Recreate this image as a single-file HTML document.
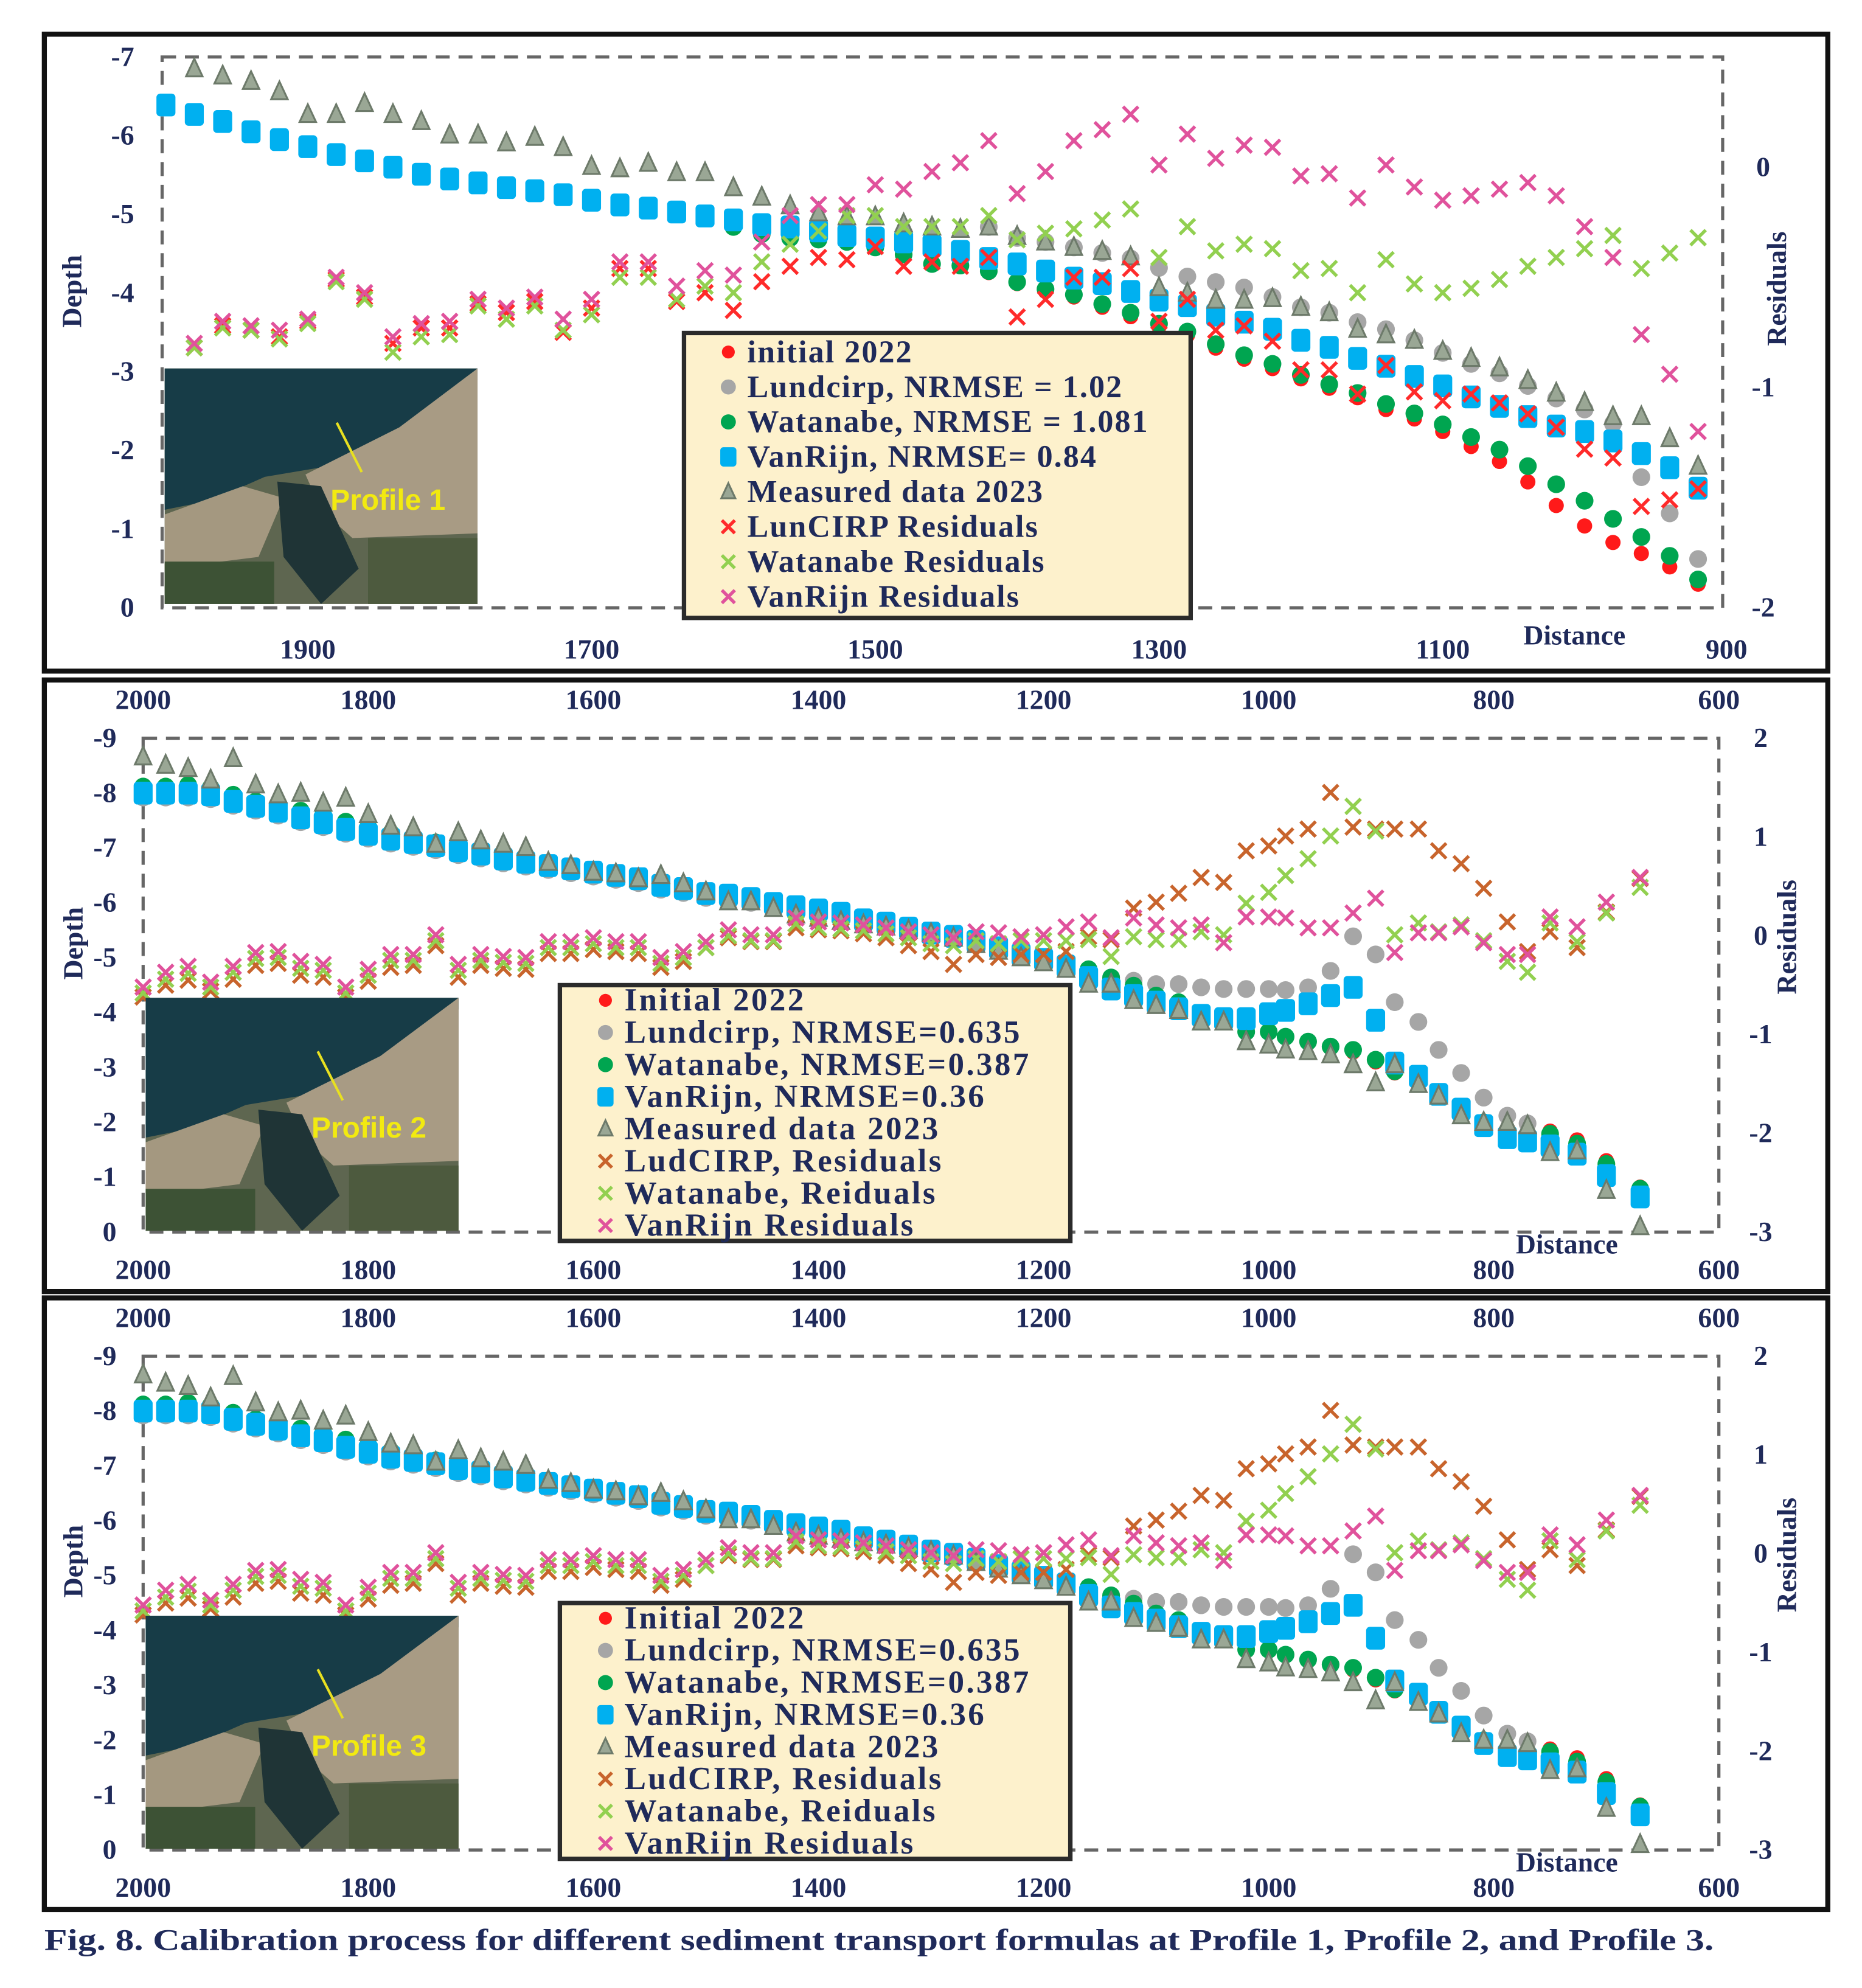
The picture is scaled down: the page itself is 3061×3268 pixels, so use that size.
<!DOCTYPE html>
<html><head><meta charset="utf-8"><title>Calibration process</title>
<style>
html,body{margin:0;padding:0;background:#fff;}
svg{display:block;}
text{font-family:"Liberation Serif",serif;font-weight:bold;fill:#1f2a5a;}
</style></head>
<body>
<svg id="fig" xmlns="http://www.w3.org/2000/svg" width="3061" height="3268" viewBox="0 0 1470 1570" preserveAspectRatio="none">
<rect x="0" y="0" width="1470" height="1570" fill="#fff"/>
<g id="layer-frames"></g>
<g id="layer-marks"></g>
<g id="layer-over"></g>
<text x="35" y="1540" font-size="24" textLength="1318" lengthAdjust="spacingAndGlyphs">Fig. 8. Calibration process for different sediment transport formulas at Profile 1, Profile 2, and Profile 3.</text>
</svg>
<script>
// ===== Panel 1 data =====
const p1Dist = [2000,1980,1960,1940,1920,1900,1880,1860,1840,1820,1800,1780,1760,1740,1720,1700,1680,1660,1640,1620,1600,1580,1560,1540,1520,1500,1480,1460,1440,1420,1400,1380,1360,1340,1320,1300,1280,1260,1240,1220,1200,1180,1160,1140,1120,1100,1080,1060,1040,1020,1000,980,960,940,920];
const p1Van = [-6.39,-6.27,-6.18,-6.05,-5.95,-5.86,-5.76,-5.68,-5.60,-5.51,-5.45,-5.40,-5.34,-5.30,-5.25,-5.18,-5.12,-5.08,-5.03,-4.98,-4.93,-4.87,-4.84,-4.79,-4.73,-4.70,-4.65,-4.60,-4.53,-4.44,-4.37,-4.28,-4.19,-4.12,-4.02,-3.91,-3.84,-3.72,-3.63,-3.54,-3.40,-3.31,-3.17,-3.07,-2.94,-2.82,-2.68,-2.56,-2.43,-2.31,-2.24,-2.12,-1.96,-1.78,-1.52];
const p1Lund = [-6.39,-6.27,-6.18,-6.05,-5.95,-5.86,-5.76,-5.68,-5.60,-5.51,-5.45,-5.40,-5.34,-5.30,-5.25,-5.18,-5.12,-5.08,-5.03,-4.98,-4.93,-4.87,-4.84,-4.79,-4.73,-4.70,-4.65,-4.60,-4.53,-4.84,-4.70,-4.65,-4.58,-4.51,-4.44,-4.32,-4.21,-4.14,-4.07,-3.95,-3.82,-3.75,-3.63,-3.54,-3.40,-3.24,-3.10,-2.98,-2.82,-2.66,-2.52,-2.34,-1.66,-1.20,-0.62];
const p1Wat = [-6.39,-6.27,-6.18,-6.05,-5.95,-5.86,-5.76,-5.68,-5.60,-5.51,-5.45,-5.40,-5.34,-5.30,-5.25,-5.18,-5.12,-5.08,-5.03,-4.98,-4.84,-4.75,-4.70,-4.68,-4.65,-4.58,-4.49,-4.37,-4.35,-4.28,-4.14,-4.05,-3.98,-3.86,-3.75,-3.61,-3.51,-3.35,-3.21,-3.10,-2.96,-2.84,-2.73,-2.59,-2.47,-2.33,-2.17,-2.01,-1.80,-1.57,-1.36,-1.13,-0.90,-0.66,-0.36];
const p1Init = [null,null,null,null,null,null,null,null,null,null,null,null,null,null,null,null,null,null,null,null,null,null,null,null,null,null,null,null,null,-4.26,-4.12,-4.02,-3.95,-3.82,-3.70,-3.57,-3.46,-3.30,-3.16,-3.04,-2.91,-2.79,-2.67,-2.52,-2.40,-2.24,-2.05,-1.86,-1.60,-1.30,-1.04,-0.83,-0.69,-0.52,-0.30];
const p1Meas = [null,-6.85,-6.76,-6.69,-6.56,-6.27,-6.27,-6.41,-6.27,-6.18,-6.01,-6.01,-5.91,-5.98,-5.85,-5.61,-5.58,-5.65,-5.53,-5.53,-5.34,-5.22,-5.11,-5.02,-4.97,-4.97,-4.88,-4.84,-4.81,-4.84,-4.72,-4.65,-4.58,-4.53,-4.46,-4.07,-4.00,-3.91,-3.91,-3.93,-3.82,-3.75,-3.54,-3.47,-3.40,-3.26,-3.17,-3.05,-2.89,-2.73,-2.61,-2.43,-2.43,-2.15,-1.80];
const p1ResLun = [null,-0.82,-0.72,-0.74,-0.77,-0.70,-0.51,-0.59,-0.80,-0.73,-0.73,-0.62,-0.66,-0.61,-0.75,-0.64,-0.46,-0.46,-0.61,-0.57,-0.65,-0.52,-0.45,-0.41,-0.42,-0.36,-0.45,-0.43,-0.45,-0.41,-0.68,-0.60,-0.50,-0.50,-0.46,-0.70,-0.60,-0.74,-0.72,-0.79,-0.92,-0.92,-1.03,-0.90,-1.02,-1.06,-1.03,-1.07,-1.12,-1.18,-1.28,-1.32,-1.54,-1.51,-1.46];
const p1ResWat = [null,-0.82,-0.73,-0.74,-0.78,-0.71,-0.52,-0.60,-0.84,-0.77,-0.76,-0.63,-0.69,-0.63,-0.74,-0.67,-0.50,-0.50,-0.60,-0.54,-0.57,-0.43,-0.35,-0.29,-0.22,-0.22,-0.27,-0.27,-0.27,-0.22,-0.33,-0.30,-0.28,-0.24,-0.19,-0.41,-0.27,-0.38,-0.35,-0.37,-0.47,-0.46,-0.57,-0.42,-0.53,-0.57,-0.55,-0.51,-0.45,-0.41,-0.37,-0.31,-0.46,-0.39,-0.32];
const p1ResVan = [null,-0.80,-0.70,-0.72,-0.74,-0.69,-0.50,-0.57,-0.77,-0.71,-0.70,-0.60,-0.64,-0.59,-0.69,-0.60,-0.43,-0.43,-0.54,-0.47,-0.49,-0.34,-0.22,-0.17,-0.17,-0.08,-0.10,-0.02,0.02,0.12,-0.12,-0.02,0.12,0.17,0.24,0.01,0.15,0.04,0.10,0.09,-0.04,-0.03,-0.14,0.01,-0.09,-0.15,-0.13,-0.10,-0.07,-0.13,-0.27,-0.41,-0.76,-0.94,-1.20];
const p1XTicks = [1900,1700,1500,1300,1100,900];
const p1DepthTicks = [-7,-6,-5,-4,-3,-2,-1,0];
const p1ResTicks = [0,-1,-2];
const p1Legend = ["initial 2022","Lundcirp, NRMSE = 1.02","Watanabe, NRMSE = 1.081","VanRijn, NRMSE= 0.84","Measured data 2023","LunCIRP Residuals","Watanabe Residuals","VanRijn Residuals"];

// ===== Panel 2 / 3 data =====
const p2Dist = [2000,1980,1960,1940,1920,1900,1880,1860,1840,1820,1800,1780,1760,1740,1720,1700,1680,1660,1640,1620,1600,1580,1560,1540,1520,1500,1480,1460,1440,1420,1400,1380,1360,1340,1320,1300,1280,1260,1240,1220,1200,1180,1160,1140,1120,1100,1080,1060,1040,1020,1000,985,965,945,925,905,888,867,849,829,809,788,770,750,726,700,670];
const p2Van = [-8.00,-8.00,-8.00,-7.97,-7.85,-7.76,-7.67,-7.55,-7.46,-7.34,-7.25,-7.16,-7.10,-7.04,-6.95,-6.89,-6.80,-6.74,-6.68,-6.62,-6.56,-6.50,-6.44,-6.32,-6.26,-6.17,-6.14,-6.08,-5.99,-5.93,-5.87,-5.81,-5.69,-5.63,-5.54,-5.45,-5.39,-5.30,-5.18,-5.06,-4.97,-4.85,-4.64,-4.43,-4.31,-4.19,-4.07,-3.95,-3.89,-3.89,-3.98,-4.04,-4.16,-4.31,-4.46,-3.86,-3.08,-2.84,-2.51,-2.24,-1.94,-1.72,-1.66,-1.57,-1.42,-1.03,-0.64];
const p2Lund = [-7.92,-7.92,-7.92,-7.89,-7.77,-7.68,-7.59,-7.47,-7.38,-7.26,-7.17,-7.08,-7.02,-6.96,-6.87,-6.81,-6.72,-6.66,-6.60,-6.54,-6.48,-6.42,-6.36,-6.24,-6.18,-6.09,-6.06,-6.00,-5.91,-5.85,-5.79,-5.73,-5.61,-5.55,-5.46,-5.40,-5.34,-5.25,-5.13,-5.01,-4.92,-4.80,-4.70,-4.62,-4.58,-4.52,-4.52,-4.46,-4.43,-4.43,-4.43,-4.41,-4.46,-4.76,-5.39,-5.06,-4.19,-3.83,-3.32,-2.90,-2.45,-2.12,-1.98,-1.70,-1.50,-1.08,-0.68];
const p2Wat = [-8.12,-8.12,-8.15,-8.10,-7.97,-7.85,-7.80,-7.68,-7.60,-7.48,-7.38,-7.27,-7.20,-7.10,-7.00,-6.92,-6.83,-6.76,-6.70,-6.64,-6.58,-6.52,-6.46,-6.35,-6.28,-6.19,-6.15,-6.09,-6.00,-5.94,-5.88,-5.82,-5.70,-5.64,-5.55,-5.45,-5.39,-5.30,-5.18,-5.06,-4.97,-4.88,-4.79,-4.64,-4.49,-4.31,-4.19,-3.98,-3.86,-3.65,-3.65,-3.56,-3.47,-3.38,-3.32,-3.14,-2.93,-2.78,-2.48,-2.21,-2.00,-1.81,-1.69,-1.79,-1.61,-1.24,-0.79];
const p2Init = [-8.10,-8.10,-8.13,-8.08,-7.95,-7.84,-7.78,-7.66,-7.58,-7.46,-7.36,-7.25,-7.18,-7.08,-6.98,-6.90,-6.81,-6.74,-6.68,-6.62,-6.56,-6.50,-6.44,-6.33,-6.26,-6.17,-6.13,-6.07,-5.98,-5.92,-5.86,-5.80,-5.68,-5.62,-5.53,-5.43,-5.37,-5.28,-5.16,-5.04,-4.95,-4.86,-4.77,-4.62,-4.47,-4.29,-4.17,-3.96,-3.84,-3.63,-3.63,-3.54,-3.45,-3.36,-3.28,-3.10,-2.90,-2.76,-2.46,-2.19,-1.98,-1.80,-1.74,-1.84,-1.68,-1.30,-0.82];
const p2Meas = [-8.66,-8.51,-8.45,-8.24,-8.63,-8.15,-7.97,-8.00,-7.82,-7.91,-7.61,-7.40,-7.37,-7.07,-7.28,-7.13,-7.07,-7.01,-6.74,-6.68,-6.56,-6.53,-6.44,-6.50,-6.35,-6.20,-6.02,-6.02,-5.90,-5.78,-5.72,-5.66,-5.60,-5.56,-5.50,-5.44,-5.36,-5.24,-5.12,-5.00,-4.91,-4.79,-4.52,-4.52,-4.22,-4.13,-4.04,-3.83,-3.83,-3.47,-3.41,-3.32,-3.29,-3.23,-3.05,-2.72,-3.05,-2.69,-2.48,-2.12,-2.00,-2.00,-1.94,-1.45,-1.48,-0.76,-0.10];
const p2ResLud = [-0.62,-0.50,-0.45,-0.56,-0.44,-0.30,-0.28,-0.40,-0.42,-0.62,-0.46,-0.32,-0.30,-0.10,-0.42,-0.30,-0.33,-0.34,-0.18,-0.18,-0.14,-0.16,-0.18,-0.32,-0.26,-0.12,-0.02,-0.06,-0.06,0.08,0.06,0.05,0.02,-0.02,-0.10,-0.16,-0.29,-0.19,-0.22,-0.19,-0.19,-0.16,-0.01,-0.04,0.28,0.34,0.43,0.59,0.54,0.86,0.91,1.01,1.08,1.45,1.10,1.08,1.08,1.08,0.86,0.73,0.48,0.14,-0.16,0.04,-0.12,0.24,0.58];
const p2ResWat = [-0.58,-0.44,-0.38,-0.52,-0.37,-0.23,-0.22,-0.33,-0.35,-0.58,-0.40,-0.25,-0.25,-0.05,-0.35,-0.25,-0.27,-0.28,-0.12,-0.12,-0.08,-0.12,-0.12,-0.28,-0.22,-0.12,0.00,-0.05,-0.05,0.12,0.08,0.07,0.05,0.02,-0.02,-0.08,-0.10,-0.05,-0.08,-0.05,-0.05,-0.05,-0.04,-0.21,-0.01,-0.04,-0.04,0.04,0.01,0.33,0.44,0.61,0.78,1.01,1.31,1.06,0.01,0.13,0.04,0.11,-0.05,-0.26,-0.37,0.13,-0.06,0.23,0.49];
const p2ResVan = [-0.52,-0.37,-0.31,-0.47,-0.31,-0.17,-0.16,-0.26,-0.29,-0.52,-0.34,-0.19,-0.19,0.01,-0.29,-0.19,-0.21,-0.22,-0.06,-0.06,-0.02,-0.06,-0.06,-0.22,-0.16,-0.06,0.06,0.01,0.01,0.18,0.14,0.13,0.11,0.08,0.04,0.01,-0.02,0.04,0.03,-0.01,0.01,0.09,0.14,-0.02,0.18,0.11,0.08,0.11,-0.07,0.19,0.19,0.18,0.08,0.08,0.23,0.38,-0.17,0.03,0.03,0.09,-0.07,-0.19,-0.19,0.19,0.09,0.34,0.59];
const p2XTicks = [2000,1800,1600,1400,1200,1000,800,600];
const p2DepthTicks = [-9,-8,-7,-6,-5,-4,-3,-2,-1,0];
const p2ResTicks = [2,1,0,-1,-2,-3];
const p2Legend = ["Initial 2022","Lundcirp, NRMSE=0.635","Watanabe, NRMSE=0.387","VanRijn, NRMSE=0.36","Measured data 2023","LudCIRP, Residuals","Watanabe, Reiduals","VanRijn Residuals"];

const NS = "http://www.w3.org/2000/svg";
const frames = document.getElementById('layer-frames');
const marksL = document.getElementById('layer-marks');
const over = document.getElementById('layer-over');
function mk(tag, attrs, parent){ const e=document.createElementNS(NS,tag); for(const k in attrs) e.setAttribute(k,attrs[k]); parent.appendChild(e); return e; }
function txt(s, x, y, size, anchor, parent){ const t=mk('text',{x:x,y:y,'font-size':size,'text-anchor':anchor||'start'},parent); t.textContent=s; return t; }

const COL = {init:'#ff1a1a', lund:'#a6a6a6', wat:'#00a550', van:'#00b0f0', meas:'#9aa795', resL1:'#ff2a2a', resL2:'#c8642c', resW:'#92d050', resV:'#e0529c'};

function marker(kind, color, x, y, s, parent){
  let e;
  if(kind==='circle'){ e=mk('circle',{cx:x,cy:y,r:7*s,fill:color},parent); }
  else if(kind==='square'){ e=mk('rect',{x:x-7.5*s,y:y-9*s,width:15*s,height:18*s,rx:3*s,fill:color},parent); }
  else if(kind==='tri'){ e=mk('polygon',{points:`${x},${y-8*s} ${x-6.5*s},${y+6*s} ${x+6.5*s},${y+6*s}`,fill:color,stroke:'#6d7a6a','stroke-width':1.5},parent); }
  else if(kind==='diamond'){ e=mk('circle',{cx:x,cy:y,r:6*s,fill:color},parent); }
  else { e=mk('g',{},parent); const d=6*s;
    mk('line',{x1:x-d,y1:y-d,x2:x+d,y2:y+d,stroke:color,'stroke-width':2.6},e);
    mk('line',{x1:x-d,y1:y+d,x2:x+d,y2:y-d,stroke:color,'stroke-width':2.6},e); }
  return e;
}

function drawSeries(name, dist, vals, xs, ys, kind, color, s){
  const g=mk('g',{},marksL);
  
  
  for(let i=0;i<vals.length;i++){
    if(vals[i]===null||vals[i]===undefined) continue;
    const m=marker(kind,color,xs(dist[i]),ys(vals[i]),s,g);
    
    
  }
}

function drawInset(x,y,w,h,label,id){
  const g=mk('g',{},over);
  
  
  mk('rect',{x:x,y:y,width:w,height:h,fill:'#5e6650'},g);
  mk('polygon',{points:`${x},${y} ${x+w},${y} ${x+w},${y+h*0.05} ${x+w*0.72},${y+h*0.28} ${x+w*0.5},${y+h*0.42} ${x+w*0.32},${y+h*0.46} ${x+w*0.15},${y+h*0.56} ${x},${y+h*0.6}`,fill:'#173c47'},g);
  mk('polygon',{points:`${x+w*0.45},${y+h*0.45} ${x+w*0.75},${y+h*0.25} ${x+w},${y} ${x+w},${y+h*0.7} ${x+w*0.6},${y+h*0.72} ${x+w*0.5},${y+h*0.6}`,fill:'#a89b84'},g);
  mk('polygon',{points:`${x},${y+h*0.62} ${x+w*0.25},${y+h*0.5} ${x+w*0.38},${y+h*0.55} ${x+w*0.3},${y+h*0.8} ${x},${y+h*0.85}`,fill:'#a49880'},g);
  mk('polygon',{points:`${x+w*0.36},${y+h*0.48} ${x+w*0.5},${y+h*0.5} ${x+w*0.62},${y+h*0.85} ${x+w*0.5},${y+h} ${x+w*0.38},${y+h*0.8}`,fill:'#1f3436'},g);
  mk('rect',{x:x,y:y+h*0.82,width:w*0.35,height:h*0.18,fill:'#3d5235'},g);
  mk('rect',{x:x+w*0.65,y:y+h*0.72,width:w*0.35,height:h*0.28,fill:'#4d5a3e'},g);
  mk('line',{x1:x+w*0.55,y1:y+h*0.23,x2:x+w*0.63,y2:y+h*0.44,stroke:'#e8e020','stroke-width':2},g);
  const t=mk('text',{x:x+w*0.53,y:y+h*0.6,'font-size':23,style:'font-family:"Liberation Sans",sans-serif;fill:#f2ea10;font-weight:bold'},g);
  t.textContent=label;
  
  
}

function drawLegend(x,y,w,h,labels,top,step,mx,tx,lunColor,fs,ls,id){
  const g=mk('g',{},over);
  
  
  mk('rect',{x:x,y:y,width:w,height:h,fill:'#fdf1cc',stroke:'#2b2b2b','stroke-width':3.5},g);
  const kinds=[['diamond',COL.init],['circle',COL.lund],['circle',COL.wat],['square',COL.van],['tri',COL.meas],['x',lunColor],['x',COL.resW],['x',COL.resV]];
  for(let i=0;i<labels.length;i++){
    const yy=top+i*step;
    const e=mk('g',{},g);
    
    
    marker(kinds[i][0],kinds[i][1],mx,yy,0.85,e);
    const t=txt(labels[i],tx,yy+8,fs,'start',e);
    t.setAttribute('letter-spacing',ls);
  }
}

function drawPanel(cfg){
  const {id,box,plot,xs,yd,yr,xTicks,dTicks,rTicks,dist,ser,lunColor} = cfg;
  const fr=mk('rect',{x:box[0],y:box[1],width:box[2]-box[0],height:box[3]-box[1],fill:'none',stroke:'#111','stroke-width':4},frames);
  
  
  const pa=mk('rect',{x:plot[0],y:plot[1],width:plot[2]-plot[0],height:plot[3]-plot[1],fill:'none',stroke:'#666','stroke-width':2.5,'stroke-dasharray':'11 7'},frames);
  
  
  const axg=mk('g',{},frames);
  
  
  dTicks.forEach(v=>{ const t=txt(String(v),cfg.dLabelX,yd(v)+7,22,'end',axg);   });
  rTicks.forEach(v=>{ const t=txt(String(v),cfg.rLabelX,yr(v)+7,22,'middle',axg);   });
  cfg.xLabelYs.forEach(yy=>{ xTicks.forEach(v=>{ const t=txt(String(v),xs(v),yy,22,'middle',axg);   }); });
  const dt=txt('Depth',0,0,22,'middle',axg); dt.setAttribute('transform',`translate(${cfg.depthTitle[0]},${cfg.depthTitle[1]}) rotate(-90)`);
   
  const rt=txt('Residuals',0,0,22,'middle',axg); rt.setAttribute('transform',`translate(${cfg.resTitle[0]},${cfg.resTitle[1]}) rotate(-90)`);
   
  drawSeries('initial-2022-'+id,dist,ser.init,xs,yd,'diamond',COL.init,1);
  drawSeries('lundcirp-'+id,dist,ser.lund,xs,yd,'circle',COL.lund,1);
  drawSeries('watanabe-'+id,dist,ser.wat,xs,yd,'circle',COL.wat,1);
  drawSeries('vanrijn-'+id,dist,ser.van,xs,yd,'square',COL.van,1);
  drawSeries('measured-2023-'+id,dist,ser.meas,xs,yd,'tri',COL.meas,1);
  drawSeries('lundcirp-residuals-'+id,dist,ser.rL,xs,yr,'x',lunColor,1);
  drawSeries('watanabe-residuals-'+id,dist,ser.rW,xs,yr,'x',COL.resW,1);
  drawSeries('vanrijn-residuals-'+id,dist,ser.rV,xs,yr,'x',COL.resV,1);
  const dl=txt('Distance',cfg.distTitle[0],cfg.distTitle[1],22,'middle',over);
   
}

drawPanel({id:'profile-1',box:[35,27,1443,530],plot:[128,45,1360,480],
  xs:d=>243+(1900-d)*1.12, yd:v=>480+v*62.14, yr:r=>132-r*174,
  xTicks:p1XTicks,dTicks:p1DepthTicks,rTicks:p1ResTicks,dist:p1Dist,
  ser:{init:p1Init,lund:p1Lund,wat:p1Wat,van:p1Van,meas:p1Meas,rL:p1ResLun,rW:p1ResWat,rV:p1ResVan},
  lunColor:COL.resL1,dLabelX:106,rLabelX:1392,xLabelYs:[520],depthTitle:[64,230],resTitle:[1410,228],distTitle:[1243,509]});
drawInset(130,291,247,186,'Profile 1','1');
drawLegend(540,263,400,225,p1Legend,278,27.6,575,590,COL.resL1,25,1.0,'profile-1');

function panel23(id,dy,label){
  drawPanel({id:id,box:[35,537+dy,1443,1020+dy],plot:[113,583+dy,1357,973+dy],
    xs:d=>113+(2000-d)*0.8886, yd:v=>973+dy+v*43.33, yr:r=>739+dy-r*78,
    xTicks:p2XTicks,dTicks:p2DepthTicks,rTicks:p2ResTicks,dist:p2Dist,
    ser:{init:p2Init,lund:p2Lund,wat:p2Wat,van:p2Van,meas:p2Meas,rL:p2ResLud,rW:p2ResWat,rV:p2ResVan},
    lunColor:COL.resL2,dLabelX:92,rLabelX:1390,xLabelYs:[560+dy,1010+dy],depthTitle:[65,745+dy],resTitle:[1418,740+dy],distTitle:[1237,990+dy]});
  drawInset(115,788+dy,247,184,label,id);
  drawLegend(442,778+dy,403,202,p2Legend,790+dy,25.4,478,493,COL.resL2,25.5,1.6,id);
}
panel23('profile-2',0,'Profile 2');
panel23('profile-3',488,'Profile 3');
</script>
</body></html>
